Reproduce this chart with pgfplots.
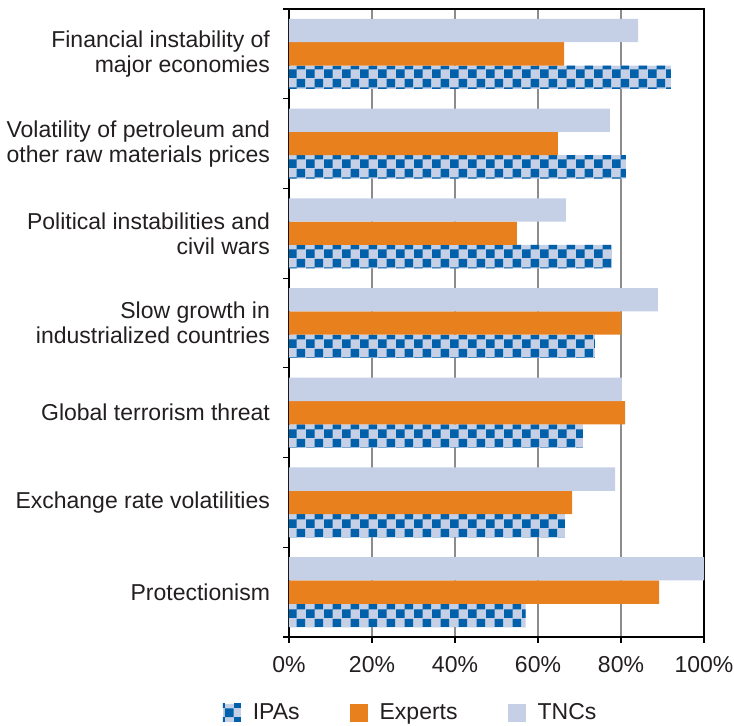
\documentclass[border=0pt]{standalone}
\usepackage{fontspec}
\setmainfont{Liberation Sans}
\usepackage{pgfplots}
\pgfplotsset{compat=1.18}
\usetikzlibrary{patterns}
\definecolor{ipablue}{RGB}{0,96,170}
\definecolor{lav}{RGB}{197,207,230}
\definecolor{orng}{RGB}{232,128,30}
\definecolor{gridgray}{RGB}{140,140,140}
\definecolor{ink}{RGB}{35,31,32}
% 9pt checker tiles, squares of 4.5pt
\pgfdeclarepatternformonly{checker}{\pgfqpoint{0pt}{0pt}}{\pgfqpoint{9pt}{9pt}}{\pgfqpoint{9pt}{9pt}}{%
  \pgfpathrectangle{\pgfqpoint{0pt}{0pt}}{\pgfqpoint{4.5pt}{4.5pt}}%
  \pgfpathrectangle{\pgfqpoint{4.5pt}{4.5pt}}{\pgfqpoint{4.5pt}{4.5pt}}%
  \pgfusepath{fill}}
\pgfplotsset{
  sq legend/.style={legend image code/.code={\path[##1] (0pt,-4.5pt) rectangle (9pt,4.5pt);}},
}
\begin{document}
\begin{tikzpicture}
\begin{axis}[name=ax,scale only axis,width=207.5pt,height=314pt,
  xbar,bar width=0.26,xmin=0,xmax=100,ymin=-0.5,ymax=6.5,y dir=reverse,
  axis line style={black,line width=0.9pt},
  tick pos=left,tick align=outside,major tick length=3pt,
  tick style={black,line width=0.6pt},
  xtick={0,20,...,100},xticklabels={0\%,20\%,40\%,60\%,80\%,100\%},
  xmajorgrids,grid style={gridgray,line width=0.65pt},
  ytick={-0.5,0.5,...,6.5},yticklabels={},
  extra y ticks={0,1,2,3,4,5,6},
  extra y tick labels={{Financial instability of\\major economies},
    {Volatility of petroleum and\\other raw materials prices},
    {Political instabilities and\\civil wars},
    {Slow growth in\\industrialized countries},
    {Global terrorism threat},
    {Exchange rate volatilities},
    {Protectionism}},
  extra y tick style={major tick length=0pt,yticklabel style={align=right,xshift=-6pt}},
  every tick label/.append style={font=\fontsize{11.5}{12.5}\selectfont,text=ink},
  xticklabel style={yshift=-3pt},
  legend style={at={(0.305,-0.121)},anchor=center,draw=none,legend columns=3,
    font=\fontsize{11.5}{12.5}\selectfont,text=ink,nodes={inner xsep=6pt},
    /tikz/every even column/.append style={column sep=19pt}},
]
\addplot[draw=none,fill=lav,postaction={pattern=checker,pattern color=ipablue},bar shift=0.26,sq legend]
  coordinates {(92,0) (81.2,1) (77.8,2) (73.7,3) (70.8,4) (66.5,5) (57,6)};
\addplot[draw=none,fill=orng,bar shift=0,sq legend]
  coordinates {(66.3,0) (64.8,1) (54.9,2) (80.1,3) (81,4) (68.2,5) (89.2,6)};
\addplot[draw=none,fill=lav,bar shift=-0.26,sq legend]
  coordinates {(84.1,0) (77.3,1) (66.7,2) (88.9,3) (80.2,4) (78.6,5) (100,6)};
\legend{IPAs,Experts,TNCs}
\end{axis}
\pgfresetboundingbox
\path[use as bounding box] ([xshift=-144.5pt,yshift=-44.5pt]ax.south west) rectangle ([xshift=15pt,yshift=4.5pt]ax.north east);
\end{tikzpicture}
\end{document}
